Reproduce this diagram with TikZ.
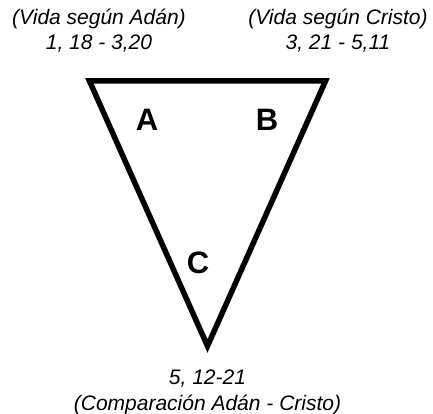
\documentclass[tikz,border=0pt]{standalone}
\usepackage{fontspec}
\setmainfont{Liberation Sans}

\begin{document}
\begin{tikzpicture}[x=1pt,y=-1pt]
    \useasboundingbox (0,0) rectangle (433,414);
    \tikzset{
        ref/.style={font=\fontsize{21}{25.5}\selectfont\itshape, align=center, inner sep=0pt},
        part/.style={font=\fontsize{31}{31}\selectfont\bfseries, inner sep=0pt}
    }
    %% vertices
    \coordinate (vA) at (89.5,81);
    \coordinate (vB) at (325.5,81);
    \coordinate (vC) at (207.5,346);
    %% edges
    \draw[line width=5.5pt, line join=miter] (vA) -- (vB) -- (vC) -- cycle;
    %% part labels
    \node[part] (lA) at (147,120) {A};
    \node[part] (lB) at (267,120) {B};
    \node[part] (lC) at (198,263) {C};
    %% passages
    \node[ref] (adan) at (99,30.5) {(Vida según Adán)\\1, 18 - 3,20};
    \node[ref] (cristo) at (338,30.5) {(Vida según Cristo)\\3, 21 - 5,11};
    \node[ref] (comp) at (207.5,392.5) {5, 12-21\\(Comparación Adán - Cristo)};
\end{tikzpicture}
\end{document}
